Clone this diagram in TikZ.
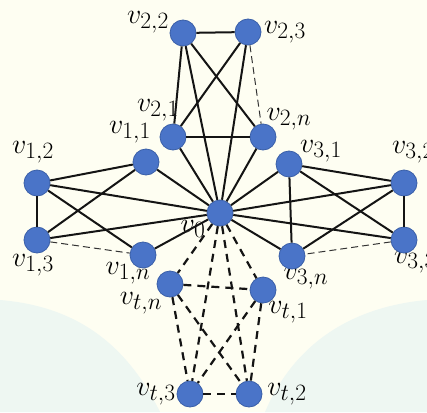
\documentclass[tikz,border=0pt]{standalone}
\usepackage{graphicx}
\usepackage{tikz}
\definecolor{nodeblue}{HTML}{4A74C8}
\definecolor{nodeedge}{HTML}{3A5FA8}
\definecolor{bgcream}{HTML}{FEFEF2}
\definecolor{bgmint}{HTML}{EEF7F2}
\newcommand{\vlab}[1]{\scalebox{1.13}{$#1$}}
\begin{document}
\begin{tikzpicture}[x=1pt,y=-1pt,
  vtx/.style={circle,fill=nodeblue,draw=nodeedge,line width=0.8pt,minimum size=26pt,inner sep=0pt},
  lbl/.style={inner sep=0pt,font=\Huge},
  sol/.style={line width=2pt,black!92},
  dsh/.style={line width=2.2pt,black!92,dash pattern=on 8pt off 6pt},
  thindsh/.style={line width=1pt,black!80,dash pattern=on 7pt off 4pt}]
\useasboundingbox (0,0) rectangle (427,412);
\fill[bgcream] (0,0) rectangle (427,412);
\fill[bgmint] (0,412) -- (0,300) .. controls (60,305) and (120,330) .. (160,412) -- cycle;
\fill[bgmint] (427,412) -- (427,300) .. controls (370,305) and (300,330) .. (265,412) -- cycle;
% labels
\node[lbl] (l22) at (148,22) {\vlab{v_{2,2}}};
\node[lbl] (l23) at (285,32) {\vlab{v_{2,3}}};
\node[lbl] (l21) at (158,110) {\vlab{v_{2,1}}};
\node[lbl] (l2n) at (289,119) {\vlab{v_{2,n}}};
\node[lbl] (l11) at (130,132) {\vlab{v_{1,1}}};
\node[lbl] (l12) at (33,152) {\vlab{v_{1,2}}};
\node[lbl] (l13) at (33,265) {\vlab{v_{1,3}}};
\node[lbl] (l1n) at (128,273) {\vlab{v_{1,n}}};
\node[lbl] (l0) at (193,229) {\vlab{v_0}};
\node[lbl] (l31) at (321,151) {\vlab{v_{3,1}}};
\node[lbl] (l32) at (413,152) {\vlab{v_{3,2}}};
\node[lbl] (l33) at (415,262) {\vlab{v_{3,3}}};
\node[lbl] (l3n) at (306,278) {\vlab{v_{3,n}}};
\node[lbl] (ltn) at (141,303) {\vlab{v_{t,n}}};
\node[lbl] (lt1) at (288,312) {\vlab{v_{t,1}}};
\node[lbl] (lt3) at (156,394) {\vlab{v_{t,3}}};
\node[lbl] (lt2) at (287,394) {\vlab{v_{t,2}}};
% vertices
\node[vtx] (v22) at (183,33) {};
\node[vtx] (v23) at (248,32) {};
\node[vtx] (v21) at (173,137) {};
\node[vtx] (v2n) at (263,137) {};
\node[vtx] (v12) at (37,183) {};
\node[vtx] (v11) at (146,162) {};
\node[vtx] (v13) at (37,240) {};
\node[vtx] (v1n) at (143,255) {};
\node[vtx] (v0) at (220,213) {};
\node[vtx] (v31) at (289,164) {};
\node[vtx] (v32) at (404,183) {};
\node[vtx] (v33) at (404,240) {};
\node[vtx] (v3n) at (292,256) {};
\node[vtx] (vtn) at (170,284) {};
\node[vtx] (vt1) at (263,290) {};
\node[vtx] (vt3) at (190,394) {};
\node[vtx] (vt2) at (249,394) {};
% group 2
\draw[sol] (v22) -- (v23);
\draw[sol] (v22) -- (v21);
\draw[sol] (v22) -- (v2n);
\draw[sol] (v22) -- (v0);
\draw[sol] (v23) -- (v21);
\draw[sol] (v23) -- (v0);
\draw[thindsh] (v23) -- (v2n);
\draw[sol] (v21) -- (v2n);
\draw[sol] (v21) -- (v0);
\draw[sol] (v2n) -- (v0);
% group 1
\draw[sol] (v12) -- (v11);
\draw[sol] (v12) -- (v13);
\draw[sol] (v12) -- (v1n);
\draw[sol] (v12) -- (v0);
\draw[sol] (v13) -- (v11);
\draw[sol] (v13) -- (v0);
\draw[thindsh] (v13) -- (v1n);
\draw[sol] (v11) -- (v0);
\draw[sol] (v1n) -- (v0);
% group 3
\draw[sol] (v32) -- (v31);
\draw[sol] (v32) -- (v33);
\draw[sol] (v32) -- (v3n);
\draw[sol] (v32) -- (v0);
\draw[sol] (v33) -- (v31);
\draw[sol] (v33) -- (v0);
\draw[thindsh] (v33) -- (v3n);
\draw[sol] (v31) -- (v3n);
\draw[sol] (v31) -- (v0);
\draw[sol] (v3n) -- (v0);
% group t
\draw[dsh] (v0) -- (vtn);
\draw[dsh] (v0) -- (vt1);
\draw[dsh] (v0) -- (vt3);
\draw[dsh] (v0) -- (vt2);
\draw[dsh] (vtn) -- (vt1);
\draw[dsh] (vtn) -- (vt3);
\draw[dsh] (vtn) -- (vt2);
\draw[dsh] (vt1) -- (vt3);
\draw[dsh] (vt1) -- (vt2);
\draw[dsh] (vt3) -- (vt2);
\end{tikzpicture}
\end{document}
